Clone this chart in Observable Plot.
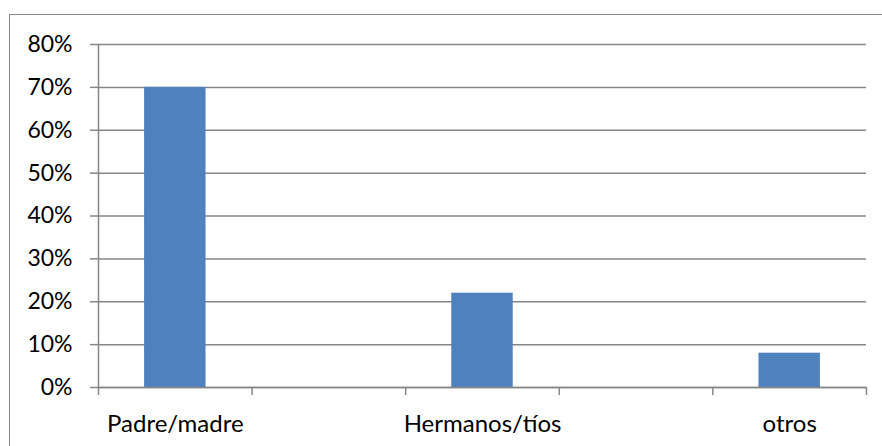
<!DOCTYPE html>
<html><head><meta charset="utf-8">
<script src="https://cdn.jsdelivr.net/npm/d3@7"></script>
<script src="https://cdn.jsdelivr.net/npm/@observablehq/plot@0.6"></script>
<style>
body{margin:0;background:#fff;}
#wrap{position:relative;width:882px;height:446px;overflow:hidden;}
#border{position:absolute;left:9px;top:14px;width:900px;height:500px;border:1.5px solid #8a8a8a;box-sizing:border-box;}
#chart{position:absolute;left:0;top:0;}
</style></head><body><div id="wrap"><div id="border"></div><div id="chart"></div></div>
<script>
const categories = ["Padre/madre", "", "Hermanos/tíos", "", "otros"];
const values = [0.70, null, 0.22, null, 0.08];
const yTicks = [0, 0.1, 0.2, 0.3, 0.4, 0.5, 0.6, 0.7, 0.8];

const data = categories.map((c, i) => ({i, c, v: values[i]})).filter(d => d.v != null);
const grid = "#868686";
const plot = Plot.plot({
  width: 882, height: 446,
  marginLeft: 98, marginRight: 16, marginTop: 44, marginBottom: 59,
  style: {fontFamily: "Lato, 'Open Sans', sans-serif", fontSize: "23px", color: "#000", background: "transparent"},
  x: {type: "linear", domain: [0, categories.length], label: null},
  y: {domain: [0, 0.8], label: null},
  marks: [
    Plot.gridY(yTicks, {stroke: grid, strokeOpacity: 1, strokeWidth: 1.5}),
    Plot.axisY(yTicks, {tickFormat: d => Math.round(d * 100) + "%", tickSize: 8, tickPadding: 18, stroke: grid, strokeWidth: 1.5, fontSize: 23, fill: "#000", label: null}),
    Plot.rectY(data, {x1: d => d.i + 0.3, x2: d => d.i + 0.7, y: "v", fill: "#4F81BD"}),
    Plot.axisX(d3.range(categories.length + 1), {tickFormat: () => "", tickSize: 8, stroke: grid, strokeWidth: 1.5, label: null}),
    Plot.axisX(d3.range(categories.length).map(i => i + 0.5), {tickFormat: d => categories[Math.floor(d)], tickSize: 0, tickPadding: 27, fontSize: 24, fill: "#000", label: null}),
    Plot.ruleX([0], {stroke: grid, strokeWidth: 1.5}),
    Plot.ruleY([0], {stroke: grid, strokeWidth: 1.5})
  ]
});
document.getElementById("chart").appendChild(plot);
</script></body></html>
